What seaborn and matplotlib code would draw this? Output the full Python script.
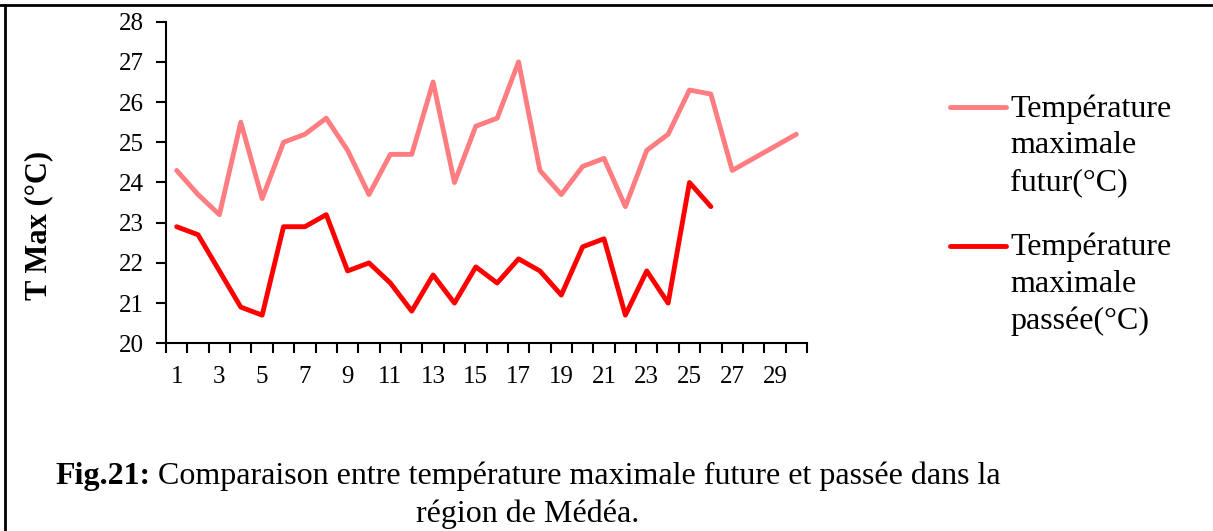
import matplotlib
matplotlib.use("Agg")
import matplotlib.pyplot as plt
import numpy as np
import pandas as pd
import seaborn as sns
from matplotlib.lines import Line2D

# data
days = list(range(1, 31))
tmax_futur = [24.3, 23.7, 23.2, 25.5, 23.6, 25.0, 25.2, 25.6, 24.8, 23.7,
              24.7, 24.7, 26.5, 24.0, 25.4, 25.6, 27.0, 24.3, 23.7, 24.4,
              24.6, 23.4, 24.8, 25.2, 26.3, 26.2, 24.3, 24.6, 24.9, 25.2]
tmax_passee = [22.9, 22.7, 21.8, 20.9, 20.7, 22.9, 22.9, 23.2, 21.8, 22.0,
               21.5, 20.8, 21.7, 21.0, 21.9, 21.5, 22.1, 21.8, 21.2, 22.4,
               22.6, 20.7, 21.8, 21.0, 24.0, 23.4]
labels = ["Température\nmaximale\nfutur(°C)", "Température\nmaximale\npassée(°C)"]
colors = ["#FF7C80", "#FF0000"]
y_ticks = list(range(20, 29))
x_labels = [str(d) for d in days if d % 2 == 1]

sns.set_style("white")
plt.rcParams["font.family"] = ["Liberation Serif", "DejaVu Serif"]
plt.rcParams["text.color"] = "black"
plt.rcParams["xtick.color"] = "black"
plt.rcParams["ytick.color"] = "black"

W, H = 1213, 531
lw = 3.5
fig = plt.figure(figsize=(W / 100, H / 100), dpi=100)
ax = fig.add_axes([166 / W, 1 - 343.3 / H, (807 - 166) / W, (343.3 - 21.7) / H])

df = pd.DataFrame({
    "day": days[:len(tmax_futur)] + days[:len(tmax_passee)],
    "val": tmax_futur + tmax_passee,
    "serie": [labels[0]] * len(tmax_futur) + [labels[1]] * len(tmax_passee),
})
sns.lineplot(data=df, x="day", y="val", hue="serie", palette=colors,
             linewidth=lw, ax=ax, legend=False, solid_capstyle="round",
             solid_joinstyle="round")

ax.set_xlim(0.5, 30.5)
ax.set_ylim(20, 28)
ax.set_yticks(y_ticks)
ax.set_yticklabels([str(v) for v in y_ticks], fontsize=18)
# excel-style: ticks between categories, labels at the odd centers
ax.set_xticks(np.arange(0.5, 31, 1))
ax.set_xticklabels([])
ax.set_xticks([d for d in days if d % 2 == 1], minor=True)
ax.set_xticklabels(x_labels, minor=True, fontsize=18)
ax.tick_params(axis="x", which="major", bottom=True, direction="out", length=7,
               width=1.5, color="black")
ax.tick_params(axis="x", which="minor", bottom=True, length=0, pad=16)
ax.tick_params(axis="y", left=True, direction="out", length=7, width=1.5,
               color="black", pad=9)
ax.set_xlabel("")
ax.set_ylabel("")
for s in ["top", "right"]:
    ax.spines[s].set_visible(False)
for s in ["left", "bottom"]:
    ax.spines[s].set_color("black")
    ax.spines[s].set_linewidth(1.5)
ax.grid(False)

fig.text(39 / W, 1 - 225 / H, "T Max (°C)", rotation=90, fontsize=22,
         fontweight="bold", ha="center", va="center")

# legend
handles = [Line2D([], [], color=c, linewidth=lw, solid_capstyle="round") for c in colors]
fs = 23
ls = 1.36
step_pt = 38.5 * 0.72
leg = fig.legend(handles, labels, loc="upper left", bbox_to_anchor=(950 / W, 1 - 94 / H),
                 frameon=False, fontsize=fs, handlelength=1.74, handletextpad=0.15,
                 borderpad=0, borderaxespad=0, labelspacing=1.1)
for t in leg.get_texts():
    t.set_linespacing(ls)
for h in leg.legend_handles:
    y = np.asarray(h.get_ydata(), dtype=float)
    h.set_ydata(y + step_pt)

# caption
cap_fs = 23
t1 = fig.text(55 / W, 1 - 484 / H, "Fig.21:", fontsize=cap_fs, fontweight="bold",
              ha="left", va="baseline")
ax.annotate(" Comparaison entre température maximale future et passée dans la",
            xy=(1, 0), xycoords=t1, ha="left", va="bottom", fontsize=cap_fs,
            annotation_clip=False)
fig.text(528 / W, 1 - 522 / H, "région de Médéa.", fontsize=cap_fs, ha="center",
         va="baseline")

# frame lines of the original figure (top and left only)
fig.add_artist(Line2D([0, 1], [1 - 5 / H, 1 - 5 / H], transform=fig.transFigure,
                      color="black", linewidth=2))
fig.add_artist(Line2D([5 / W, 5 / W], [0, 1 - 5 / H], transform=fig.transFigure,
                      color="black", linewidth=2))

fig.savefig("out.png", dpi=100, facecolor="white")
